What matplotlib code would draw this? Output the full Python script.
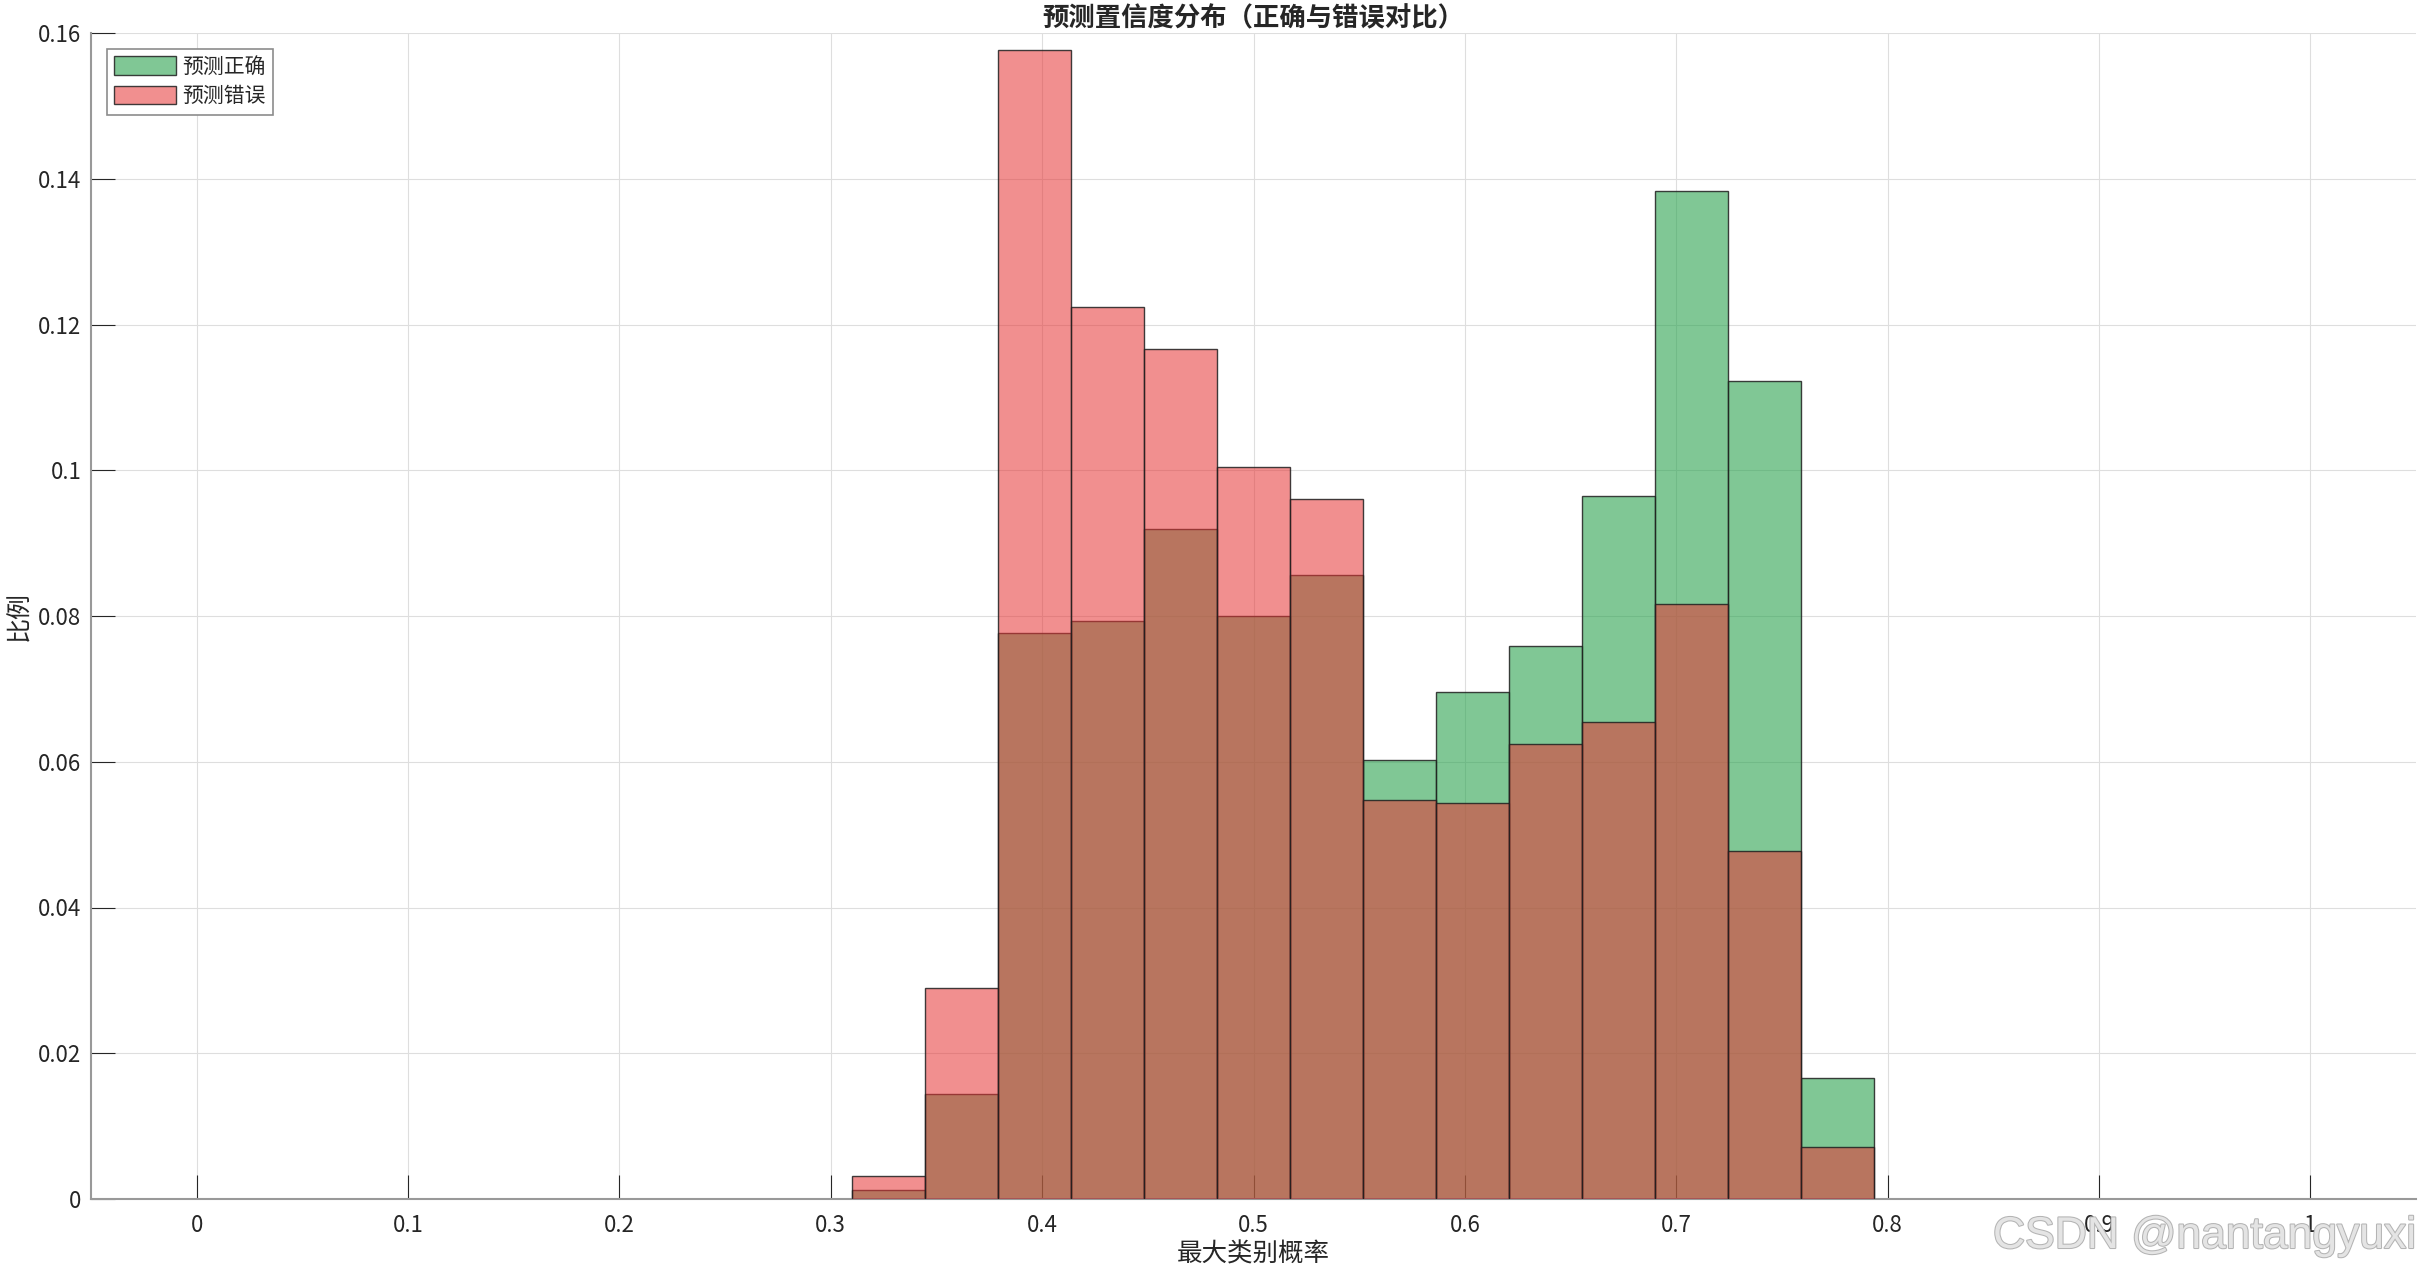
import numpy as np
import matplotlib
matplotlib.use("Agg")
import matplotlib.pyplot as plt
import matplotlib.patheffects as pe
from matplotlib.ticker import FuncFormatter

plt.rcParams['font.family'] = ['Noto Sans CJK SC', 'DejaVu Sans']

# histogram data (probability normalised), shared bin edges
bin_start = 0.3102
bin_width = 0.03454
n_bins = 14
bin_edges = bin_start + bin_width * np.arange(n_bins + 1)

correct_prob = [0.0013, 0.0144, 0.0777, 0.0793, 0.0920, 0.0800, 0.0856,
                0.0603, 0.0696, 0.0759, 0.0964, 0.1383, 0.1122, 0.0166]
wrong_prob = [0.0032, 0.0289, 0.1576, 0.1224, 0.1167, 0.1004, 0.0961,
              0.0547, 0.0544, 0.0625, 0.0655, 0.0817, 0.0478, 0.0071]

series_labels = ['预测正确', '预测错误']
title_text = '预测置信度分布（正确与错误对比）'
xlabel_text = '最大类别概率'
ylabel_text = '比例'
xticks = [0, 0.1, 0.2, 0.3, 0.4, 0.5, 0.6, 0.7, 0.8, 0.9, 1.0]
yticks = [0, 0.02, 0.04, 0.06, 0.08, 0.10, 0.12, 0.14, 0.16]

W, H = 2419, 1273
fig = plt.figure(figsize=(W / 100, H / 100), dpi=100)
ax = fig.add_axes([91 / W, 1 - 1199 / H, (2416 - 91) / W, (1199 - 33) / H])

green = (0.17, 0.64, 0.31, 0.6)
red = (0.907, 0.2, 0.2, 0.55)
edge = (0.12, 0.12, 0.12, 0.85)

lefts = bin_edges[:-1]
widths = np.diff(bin_edges)
b1 = ax.bar(lefts, correct_prob, width=widths, align='edge', color=green,
            edgecolor=edge, linewidth=1.0, label=series_labels[0], zorder=2)
b2 = ax.bar(lefts, wrong_prob, width=widths, align='edge', color=red,
            edgecolor=edge, linewidth=1.0, label=series_labels[1], zorder=3)

ax.set_xlim(-0.05, 1.05)
ax.set_ylim(0, 0.16)
ax.set_xticks(xticks)
ax.set_yticks(yticks)
fmt = FuncFormatter(lambda v, p: f'{v:g}')
ax.xaxis.set_major_formatter(fmt)
ax.yaxis.set_major_formatter(fmt)

ax.grid(True, color='#dedede', linewidth=0.8, zorder=0)
ax.set_axisbelow(True)

for s in ['top', 'right']:
    ax.spines[s].set_visible(False)
for s in ['left', 'bottom']:
    ax.spines[s].set_color('#999999')
    ax.spines[s].set_linewidth(1.5)

ax.tick_params(axis='both', direction='in', length=17, width=0.8,
               colors='#262626', labelsize=16)
ax.tick_params(axis='x', pad=11)
ax.tick_params(axis='y', pad=7)

ax.set_title(title_text, fontsize=19, fontweight='bold', color='#262626', pad=5)
ax.set_xlabel(xlabel_text, fontsize=18.4, color='#262626', labelpad=3)
ax.set_ylabel(ylabel_text, fontsize=18, color='#262626', labelpad=4)

leg = ax.legend(loc='upper left', fontsize=15, fancybox=False, framealpha=1,
                edgecolor='#8c8c8c', handlelength=3.0, handleheight=1.0,
                handletextpad=0.3, labelspacing=0.35, borderpad=0.35,
                borderaxespad=0.75)
leg.get_frame().set_linewidth(1.2)
for t in leg.get_texts():
    t.set_color('#262626')

# watermark (overlaps the 0.9 tick label, as in the source image)
fig.text(1993 / W, 1 - 1248 / H, 'CSDN @nantangyuxi', family='Liberation Sans',
         fontsize=32, color='#e4e4e4', ha='left', va='baseline', zorder=10,
         path_effects=[pe.withStroke(linewidth=1.5, foreground='#b4b4b4')])

fig.savefig('out.png', dpi=100)
